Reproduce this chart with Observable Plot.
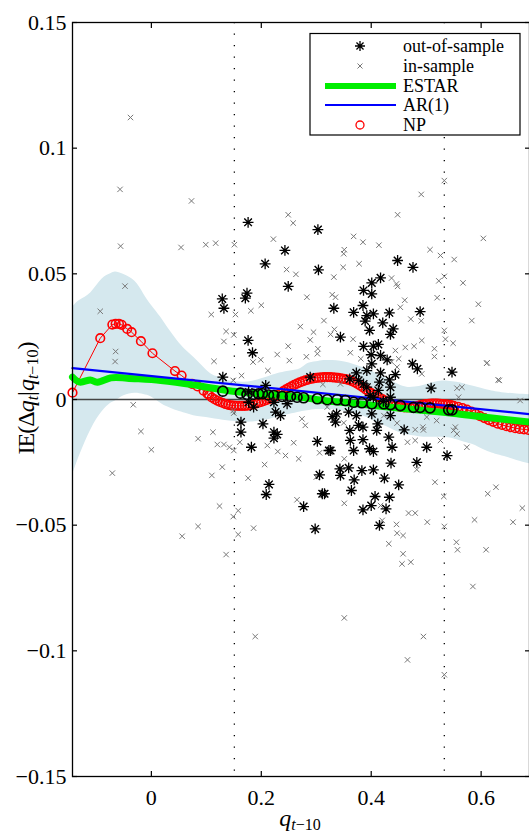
<!DOCTYPE html>
<html><head><meta charset="utf-8">
<script src="https://cdn.jsdelivr.net/npm/d3@7"></script>
<script src="https://cdn.jsdelivr.net/npm/@observablehq/plot@0.6"></script>
<style>body{margin:0;background:#fff} svg{display:block}</style>
</head><body><div id="chart"></div>
<script>
// in-sample points (grey x)
const inX = [-0.038,-0.057,0.073,-0.056,0.054,0.099,0.117,0.151,0.222,0.249,0.258,0.368,0.351,0.350,0.533,0.491,0.385,0.414,0.378,0.349,0.263,0.332,0.526,0.551,0.533,0.523,0.567,0.446,0.448,0.520,0.595,0.583,0.633,0.611,0.461,0.472,0.491,0.533,0.535,0.549,0.515,0.515,0.492,0.462,0.420,0.437,0.314,0.271,0.295,0.289,0.282,0.303,0.333,0.326,0.367,0.362,0.381,0.312,0.344,0.556,0.565,0.559,0.519,0.501,0.494,0.526,0.550,0.574,0.671,0.246,0.283,0.200,0.181,0.109,0.153,0.136,0.150,0.132,0.249,0.229,0.302,0.199,0.185,0.251,0.114,0.212,0.164,0.149,0.448,0.507,0.437,0.329,0.335,0.453,0.478,0.444,0.450,0.492,0.447,0.150,0.112,0.085,0.120,0.132,0.142,0.161,0.150,0.211,0.230,0.244,0.259,0.268,0.306,0.274,0.280,0.206,0.129,0.110,0.176,0.300,0.265,0.124,0.158,0.149,0.085,0.186,0.158,0.136,0.149,0.320,0.350,0.423,0.447,0.480,0.495,0.466,0.480,0.553,0.351,0.483,0.516,0.532,0.351,0.417,0.468,0.480,0.502,0.533,0.446,0.447,0.458,0.432,0.458,0.420,0.555,0.556,0.456,0.472,0.557,0.609,0.585,0.588,0.658,0.612,0.627,0.675,0.351,0.495,0.466,0.533,-0.071,0.056,0.189,-0.048,-0.093,-0.065,-0.066,-0.033,-0.019,0.000,0.631,0.610,0.604];
const inY = [0.1122,0.0836,0.079,0.061,0.0605,0.0616,0.0622,0.0616,0.0638,0.0735,0.0702,0.0649,0.0596,0.058,0.0871,0.0816,0.0626,0.0614,0.054,0.0526,0.0498,0.0487,0.0573,0.0557,0.049,0.0472,0.0464,0.046,0.045,0.0405,0.0379,0.0314,0.0076,0.0146,0.0395,0.032,0.0313,0.0275,0.024,0.0224,0.0202,0.0171,0.0235,0.0207,0.0166,0.015,0.0314,0.029,0.0268,0.0237,0.017,0.0202,0.0279,0.0259,0.024,0.0186,0.0162,0.006,0.0062,0.0045,0.0049,0.0009,-0.0084,-0.007,-0.011,-0.0163,-0.0123,-0.019,-0.0004,0.0517,0.0407,0.0375,0.0353,0.0338,0.0338,0.0271,0.0257,0.0231,0.0212,0.0179,0.0182,0.0158,0.0149,0.0155,0.0152,0.0115,0.0095,0.0076,0.0735,0.0596,0.0483,0.0417,0.0407,0.0367,0.0212,0.0195,0.0162,0.0102,0.0129,-0.0054,-0.013,-0.0156,-0.0179,-0.0179,-0.019,-0.017,-0.0203,-0.0183,-0.0207,-0.0223,-0.0172,-0.0236,-0.0212,-0.0077,-0.0103,-0.0259,-0.0269,-0.0302,-0.0313,-0.0309,-0.0399,-0.0424,-0.0442,-0.0466,-0.0505,-0.0512,-0.0537,-0.0617,-0.0044,-0.003,-0.0093,-0.0064,-0.0094,-0.012,-0.0121,-0.017,-0.0163,-0.011,-0.0236,-0.0279,-0.0329,-0.0386,-0.0413,-0.0422,-0.0452,-0.0452,-0.0488,-0.0505,-0.0497,-0.0532,-0.0541,-0.0574,-0.0614,-0.0481,-0.0568,-0.0137,-0.0654,-0.0647,-0.0598,-0.0598,-0.0744,-0.0479,-0.0488,-0.0375,-0.0349,-0.0432,-0.0869,-0.0943,-0.1036,-0.1095,-0.0293,-0.0544,-0.0943,0.0451,0.0351,0.0191,0.0151,-0.0021,-0.0127,-0.020,0.0078,0.0144,0.0641];

// out-of-sample points (black asterisks)
const outX = [0.176,0.303,0.243,0.207,0.304,0.249,0.174,0.171,0.129,0.132,0.176,0.184,0.130,0.208,0.448,0.476,0.417,0.401,0.386,0.401,0.332,0.368,0.385,0.404,0.433,0.489,0.392,0.389,0.421,0.397,0.440,0.435,0.344,0.386,0.404,0.413,0.400,0.417,0.429,0.401,0.475,0.484,0.392,0.444,0.373,0.417,0.433,0.547,0.361,0.386,0.415,0.435,0.509,0.177,0.186,0.226,0.235,0.247,0.163,0.203,0.163,0.223,0.229,0.223,0.182,0.302,0.323,0.306,0.214,0.209,0.311,0.315,0.277,0.298,0.435,0.337,0.329,0.359,0.373,0.377,0.361,0.385,0.412,0.410,0.460,0.432,0.385,0.362,0.438,0.501,0.326,0.368,0.397,0.404,0.538,0.436,0.483,0.343,0.359,0.383,0.404,0.344,0.369,0.424,0.450,0.364,0.407,0.433,0.400,0.385,0.427,0.415,0.289,0.335,0.377,0.392,0.404,0.413,0.398,0.422,0.435,0.401,0.223,0.177];
const outY = [0.0705,0.0676,0.0593,0.054,0.0516,0.045,0.0423,0.0403,0.040,0.0363,0.0235,0.0186,0.0089,0.0056,0.0553,0.0526,0.0484,0.0464,0.0434,0.042,0.0363,0.0347,0.0374,0.0341,0.0345,0.035,0.0334,0.0312,0.0305,0.0275,0.0281,0.0259,0.0248,0.0211,0.0212,0.0219,0.0178,0.0175,0.0158,0.0142,0.0142,0.0122,0.0115,0.0099,0.0106,0.0106,0.0078,0.0109,0.0082,0.0062,0.0069,0.0049,0.0045,-0.0011,-0.003,-0.005,-0.0064,-0.0017,-0.009,-0.0097,-0.013,-0.013,-0.0139,-0.0154,-0.019,-0.0167,-0.0203,-0.030,-0.0338,-0.0378,-0.0375,-0.0375,-0.0426,-0.0515,-0.0064,-0.0057,-0.0068,-0.005,-0.0064,-0.0103,-0.0123,-0.011,-0.0097,-0.0123,-0.0121,-0.015,-0.016,-0.0163,-0.019,-0.019,-0.0203,-0.0203,-0.0196,-0.0207,-0.0223,-0.0253,-0.025,-0.0276,-0.0272,-0.0283,-0.028,-0.0302,-0.032,-0.0313,-0.034,-0.0362,-0.0386,-0.0389,-0.0422,-0.0439,-0.0435,-0.0501,0.0089,-0.009,0.0076,0.0049,0.0009,0.0036,0.0016,-0.0007,0.0009,-0.0057,-0.0011,0.003];

// confidence band
const bandX  = [-0.1435,-0.13,-0.11,-0.09,-0.074,-0.065,-0.05,-0.03,-0.014,0.0,0.017,0.03,0.047,0.062,0.077,0.092,0.108,0.123,0.138,0.153,0.168,0.184,0.199,0.214,0.229,0.25,0.271,0.284,0.30,0.314,0.33,0.344,0.36,0.374,0.39,0.404,0.42,0.435,0.45,0.465,0.48,0.495,0.51,0.526,0.54,0.556,0.57,0.586,0.60,0.616,0.63,0.647,0.665,0.688];
const bandHi = [0.0367,0.0395,0.0425,0.0478,0.0500,0.0507,0.0497,0.0470,0.0420,0.0375,0.0327,0.0285,0.0235,0.0198,0.0168,0.0135,0.0102,0.0088,0.0076,0.0071,0.0069,0.0073,0.0082,0.0092,0.0102,0.0112,0.0122,0.0142,0.0150,0.0155,0.0155,0.0152,0.0145,0.0135,0.0122,0.0109,0.0092,0.0076,0.0060,0.0049,0.0050,0.0056,0.0066,0.0073,0.0073,0.0069,0.0062,0.0053,0.0045,0.0036,0.0030,0.0025,0.0022,0.0019];
const bandLo = [-0.030,-0.022,-0.012,-0.005,-0.0015,-0.0005,0.0015,0.0025,0.002,0.001,-0.0015,-0.003,-0.0045,-0.0055,-0.0065,-0.007,-0.0075,-0.008,-0.0085,-0.0088,-0.009,-0.009,-0.0085,-0.008,-0.007,-0.006,-0.005,-0.0045,-0.004,-0.004,-0.004,-0.0045,-0.005,-0.006,-0.007,-0.0085,-0.010,-0.0115,-0.013,-0.014,-0.0145,-0.015,-0.015,-0.015,-0.0152,-0.016,-0.017,-0.018,-0.0195,-0.021,-0.022,-0.023,-0.0243,-0.0256];

// ESTAR fit
const estarX = [-0.1435,-0.129,-0.111,-0.098,-0.074,-0.044,0.017,0.077,0.138,0.199,0.271,0.314,0.374,0.435,0.495,0.556,0.616,0.688];
const estarY = [0.0089,0.0069,0.0078,0.0069,0.0086,0.0085,0.0076,0.0058,0.0036,0.0023,0.0009,-0.0004,-0.0017,-0.0031,-0.0044,-0.0057,-0.0073,-0.009];
// ESTAR at out-of-sample points (black circles)
const estarPtX = [0.130,0.162,0.174,0.185,0.195,0.202,0.213,0.223,0.238,0.253,0.265,0.277,0.302,0.320,0.338,0.353,0.368,0.383,0.401,0.423,0.435,0.453,0.477,0.489,0.507,0.541,0.547];
const estarPtY = [0.0033,0.0025,0.0020,0.0020,0.0022,0.0023,0.0018,0.0016,0.0012,0.0012,0.0009,0.0007,0.0003,-0.0001,-0.0001,-0.0004,-0.0011,-0.0013,-0.0017,-0.0017,-0.0020,-0.0024,-0.0031,-0.0031,-0.0033,-0.0041,-0.0041];

// AR(1) fit
const arX = [-0.1435, 0.688];
const arY = [0.01245, -0.0058];

// nonparametric estimate
const npX = [-0.1435,-0.093,-0.071,-0.065,-0.059,-0.054,-0.044,-0.036,-0.019,0.002,0.043,0.055,0.074,0.084,0.095,0.102,
0.105,0.110,0.115,0.120,0.125,0.130,0.135,0.140,0.145,0.150,0.155,0.160,0.165,0.170,0.175,0.180,0.185,0.190,0.195,0.200,0.205,0.210,0.215,0.220,0.225,0.230,0.235,0.240,0.245,0.250,0.255,0.260,0.265,0.270,0.275,0.280,0.285,0.290,0.295,0.300,0.305,0.310,0.315,0.320,0.325,0.330,0.335,0.340,0.345,0.350,0.355,0.360,0.365,0.370,0.375,0.380,0.385,0.390,0.395,0.400,0.405,0.410,0.415,0.420,0.425,0.430,0.435,0.440,0.445,0.450,0.455,0.460,0.465,0.470,0.475,0.480,0.485,0.490,0.495,0.500,0.505,0.510,0.515,0.520,0.525,0.530,0.535,0.540,0.545,0.550,
0.558,0.566,0.574,0.582,0.590,0.598,0.606,0.614,0.622,0.630,0.638,0.646,0.654,0.662,0.670,0.678,0.686];
const npY = [0.0027,0.0244,0.0298,0.0301,0.0301,0.0297,0.0281,0.0268,0.0232,0.0184,0.0113,0.0095,0.0062,0.0052,0.0035,0.0023,
0.0018,0.0008,0.0001,-0.0005,-0.0010,-0.0014,-0.0018,-0.0021,-0.0023,-0.0024,-0.0025,-0.0025,-0.0025,-0.0025,-0.0024,-0.0022,-0.0019,-0.0016,-0.0013,-0.0010,-0.0006,-0.0002,0.0002,0.0006,0.0011,0.0018,0.0025,0.0033,0.0040,0.0046,0.0052,0.0058,0.0063,0.0068,0.0072,0.0076,0.0079,0.0082,0.0084,0.0086,0.0087,0.0088,0.0089,0.0089,0.0089,0.0088,0.0087,0.0086,0.0084,0.0082,0.0080,0.0077,0.0073,0.0068,0.0062,0.0055,0.0048,0.0040,0.0032,0.0025,0.0018,0.0012,0.0007,0.0002,-0.0004,-0.0010,-0.0015,-0.0020,-0.0024,-0.0027,-0.0029,-0.0031,-0.0031,-0.0031,-0.0030,-0.0028,-0.0025,-0.0022,-0.0020,-0.0018,-0.0017,-0.0016,-0.0016,-0.0016,-0.0017,-0.0018,-0.0019,-0.0020,-0.0022,-0.0025,
-0.0029,-0.0034,-0.0040,-0.0048,-0.0057,-0.0066,-0.0074,-0.0082,-0.0089,-0.0096,-0.0101,-0.0106,-0.0110,-0.0114,-0.0117,-0.0119,-0.0121];

const xTicks = [0, 0.2, 0.4, 0.6];
const yTicks = [-0.15, -0.1, -0.05, 0, 0.05, 0.1, 0.15];
const vLines = [0.151, 0.533];

const zip = (xs, ys) => xs.map((x, i) => ({x, y: ys[i]}));
const inPts = zip(inX, inY);
const outPts = zip(outX, outY);
const band = bandX.map((x, i) => ({x, lo: bandLo[i], hi: bandHi[i]}));
const estar = zip(estarX, estarY);
const estarPts = zip(estarPtX, estarPtY);
const ar = zip(arX, arY);
const np = zip(npX, npY);

const asterisk8 = {draw(ctx, size) {
  const r = Math.sqrt(size / Math.PI), d = r * Math.SQRT1_2;
  ctx.moveTo(-r, 0); ctx.lineTo(r, 0); ctx.moveTo(0, -r); ctx.lineTo(0, r);
  ctx.moveTo(-d, -d); ctx.lineTo(d, d); ctx.moveTo(-d, d); ctx.lineTo(d, -d);
}};
const cross = {draw(ctx, size) {
  const r = Math.sqrt(size / Math.PI);
  ctx.moveTo(-r, -r); ctx.lineTo(r, r); ctx.moveTo(-r, r); ctx.lineTo(r, -r);
}};

const fmt = d3.format("");
const chart = Plot.plot({
  width: 529, height: 834,
  marginLeft: 72, marginRight: 0, marginTop: 22, marginBottom: 58,
  style: {fontFamily: "'Liberation Serif', serif", fontSize: "22px", color: "black", background: "white"},
  x: {domain: [-0.1435, 0.688]},
  y: {domain: [-0.15, 0.15]},
  marks: [
    Plot.areaY(band, {x: "x", y1: "lo", y2: "hi", fill: "#d5e8ee", curve: "natural"}),
    Plot.ruleY([0], {stroke: "#444", strokeWidth: 1.3}),
    Plot.ruleX(vLines, {stroke: "black", strokeWidth: 1.3, strokeDasharray: "1.3,10.2"}),
    Plot.line(np, {x: "x", y: "y", stroke: "red", strokeWidth: 1}),
    Plot.dot(np, {x: "x", y: "y", r: 4.3, stroke: "red", strokeWidth: 1.6, fill: "none"}),
    Plot.line(estar, {x: "x", y: "y", stroke: "#00ee00", strokeWidth: 7, curve: "natural"}),
    Plot.line(ar, {x: "x", y: "y", stroke: "blue", strokeWidth: 2.2}),
    Plot.dot(estarPts, {x: "x", y: "y", r: 5, stroke: "black", strokeWidth: 1.7, fill: "none"}),
    Plot.dot(inPts, {x: "x", y: "y", symbol: cross, r: 2.7, stroke: "#777", strokeWidth: 1}),
    Plot.dot(outPts, {x: "x", y: "y", symbol: cross, r: 3.6, stroke: "#888", strokeWidth: 1.1}),
    Plot.dot(outPts, {x: "x", y: "y", symbol: asterisk8, r: 5.4, stroke: "black", strokeWidth: 1.3}),
    Plot.frame({stroke: "black", strokeWidth: 1.3}),
    Plot.axisX({anchor: "bottom", ticks: xTicks, tickSize: -5, tickPadding: 18, tickFormat: fmt, label: null, strokeWidth: 1.2}),
    Plot.axisX({anchor: "top", ticks: xTicks, tickSize: -5, tickFormat: () => "", label: null, strokeWidth: 1.2}),
    Plot.axisY({anchor: "left", ticks: yTicks, tickSize: -5, tickPadding: 11, tickFormat: fmt, label: null, strokeWidth: 1.2}),
    Plot.axisY({anchor: "right", ticks: yTicks, tickSize: -5, tickFormat: () => "", label: null, strokeWidth: 1.2})
  ]
});
document.getElementById("chart").appendChild(chart);

// titles and legend
const svg = d3.select(chart);
const serif = "'Liberation Serif', serif";
const xt = svg.append("text").attr("x", 300).attr("y", 826).attr("text-anchor", "middle")
  .attr("font-family", serif).attr("font-size", 24);
xt.append("tspan").attr("font-style", "italic").text("q");
xt.append("tspan").attr("font-size", 16).attr("dy", 4).text("t").attr("font-style", "italic");
xt.append("tspan").attr("font-size", 16).text("−10");

const yt = svg.append("text").attr("transform", "translate(34,398) rotate(-90)").attr("text-anchor", "middle")
  .attr("font-family", serif).attr("font-size", 24);
yt.append("tspan").attr("letter-spacing", "-1").text("IE(Δ");
yt.append("tspan").attr("font-style", "italic").text("q");
yt.append("tspan").attr("font-size", 16).attr("dy", 4).attr("font-style", "italic").text("t");
yt.append("tspan").attr("dy", -4).text("|");
yt.append("tspan").attr("font-style", "italic").text("q");
yt.append("tspan").attr("font-size", 16).attr("dy", 4).attr("font-style", "italic").text("t");
yt.append("tspan").attr("font-size", 16).text("−10");
yt.append("tspan").attr("dy", -4).text(")");

const lg = svg.append("g");
lg.append("rect").attr("x", 310).attr("y", 33.5).attr("width", 210).attr("height", 101.5)
  .attr("fill", "white").attr("stroke", "black").attr("stroke-width", 1.2);
const rows = [46, 66, 86, 105, 125];
const labels = ["out-of-sample", "in-sample", "ESTAR", "AR(1)", "NP"];
labels.forEach((t, i) => lg.append("text").attr("x", 403).attr("y", rows[i]).attr("dy", "0.35em")
  .attr("text-anchor", "start").attr("font-family", serif).attr("font-size", 18).text(t));
const s = 5, d = s * Math.SQRT1_2;
lg.append("path").attr("d", `M${360-s},46H${360+s}M360,${46-s}V${46+s}M${360-d},${46-d}L${360+d},${46+d}M${360-d},${46+d}L${360+d},${46-d}`)
  .attr("stroke", "black").attr("stroke-width", 1.3);
lg.append("path").attr("d", "M357.5,63.5L362.5,68.5M357.5,68.5L362.5,63.5").attr("stroke", "#777");
lg.append("line").attr("x1", 325).attr("x2", 396).attr("y1", 86).attr("y2", 86).attr("stroke", "#00ee00").attr("stroke-width", 6);
lg.append("line").attr("x1", 325).attr("x2", 396).attr("y1", 105).attr("y2", 105).attr("stroke", "blue").attr("stroke-width", 2);
lg.append("circle").attr("cx", 360).attr("cy", 125).attr("r", 4).attr("fill", "none").attr("stroke", "red").attr("stroke-width", 1.3);
</script>
</body></html>
